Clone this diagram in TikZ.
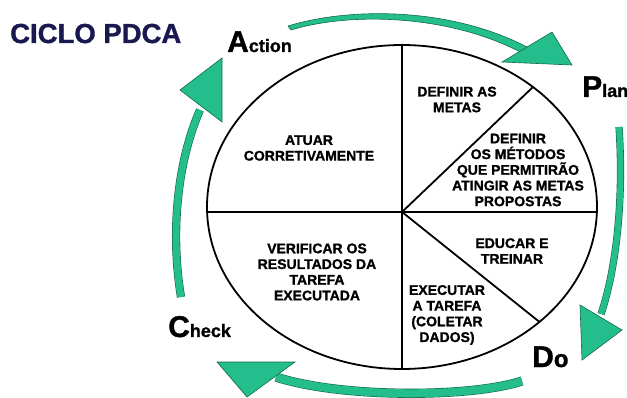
\documentclass[tikz,border=0pt]{standalone}
\usepackage{fontspec}
\setmainfont{Liberation Sans}
\newfontfamily\heavysans{Liberation Sans}[BoldFeatures={FakeBold=1.2}]
\usetikzlibrary{calc}
\definecolor{arrowgreen}{RGB}{35,190,140}
\definecolor{arrowdark}{RGB}{20,105,75}
\definecolor{titlenavy}{RGB}{25,25,80}
\tikzset{
  seg/.style={align=center, inner sep=0pt, font=\heavysans\bfseries\fontsize{14}{15.7}\selectfont},
  lbl/.style={anchor=base west, inner sep=0pt, font=\heavysans\bfseries},
  shaftout/.style={draw=arrowdark, line width=#1},
  shaftin/.style={draw=arrowgreen, line width=#1},
  headtri/.style={fill=arrowgreen, draw=arrowdark, line width=0.6pt, line join=miter},
  divline/.style={line width=1.8pt, black}
}
\begin{document}
\begin{tikzpicture}[x=1pt,y=-1pt]
\useasboundingbox (0,0) rectangle (627,398);
% ellipse and dividers
\coordinate (c) at (402,212);
\begin{scope}
  \clip (402,207) ellipse [x radius=195, y radius=162];
  \draw[divline] (150,212) -- (650,212);
  \draw[divline] (402,0) -- (402,400);
  \draw[divline] (c) -- ($(c)!3!(533,87)$);
  \draw[divline] (c) -- ($(c)!3!(537,320)$);
\end{scope}
\draw[line width=1.8pt] (402,207) ellipse [x radius=195, y radius=162];

% top arrow (Action -> Plan), tapered shaft
\fill[arrowgreen, draw=arrowdark, line width=0.6pt]
  (288,26) .. controls (350,7) and (450,7) .. (527,47)
  -- (524,54) .. controls (450,14) and (350,12) .. (291,30) -- cycle;
\draw[headtri] (502,62) -- (552,32) -- (572,65) -- cycle;

% right arrow (Plan -> Do)
\draw[shaftout=7.2pt] (619,127) .. controls (624,200) and (616,270) .. (601,314);
\draw[shaftin=6pt] (619,127) .. controls (624,200) and (616,270) .. (601,314);
\draw[headtri] (580,305) -- (622,330) -- (582,360) -- cycle;

% bottom arrow (Do -> Check)
\draw[shaftout=9.2pt] (522,381) .. controls (470,398) and (340,398) .. (276,377);
\draw[shaftin=8pt] (522,381) .. controls (470,398) and (340,398) .. (276,377);
\draw[headtri] (295,362) -- (247,397) -- (217,362) -- cycle;

% left arrow (Check -> Action)
\draw[shaftout=8.2pt] (181,297) .. controls (170,230) and (178,160) .. (200,110);
\draw[shaftin=7pt] (181,297) .. controls (170,230) and (178,160) .. (200,110);
\draw[headtri] (180,90) -- (222,122) -- (222,58) -- cycle;

% title
\node[lbl, text=titlenavy, font=\heavysans\bfseries\fontsize{27.5}{27.5}\selectfont] (title) at (10,43) {CICLO PDCA};

% phase labels
\node[lbl] (action) at (227,52) {{\fontsize{30}{30}\selectfont A}{\fontsize{18}{18}\selectfont ction}};
\node[lbl] (plan) at (582,97) {{\fontsize{30}{30}\selectfont P}{\fontsize{18}{18}\selectfont lan}};
\node[lbl] (do) at (532,367) {{\fontsize{30}{30}\selectfont D}{\fontsize{24}{24}\selectfont o}};
\node[lbl] (check) at (168,337) {{\fontsize{30}{30}\selectfont C}{\fontsize{18}{18}\selectfont heck}};

% segment texts
\node[seg] (atuar) at (309,148) {ATUAR\\CORRETIVAMENTE};
\node[seg] (verif) at (317,272) {VERIFICAR OS\\RESULTADOS DA\\TAREFA\\EXECUTADA};
\node[seg] (metas) at (457,99.5) {DEFINIR AS\\METAS};
\node[seg] (metodos) at (518,170) {DEFINIR\\OS MÉTODOS\\QUE PERMITIRÃO\\ATINGIR AS METAS\\PROPOSTAS};
\node[seg] (educar) at (512,251) {EDUCAR E\\TREINAR};
\node[seg] (executar) at (447,315) {EXECUTAR\\A TAREFA\\(COLETAR\\DADOS)};
\end{tikzpicture}
\end{document}
